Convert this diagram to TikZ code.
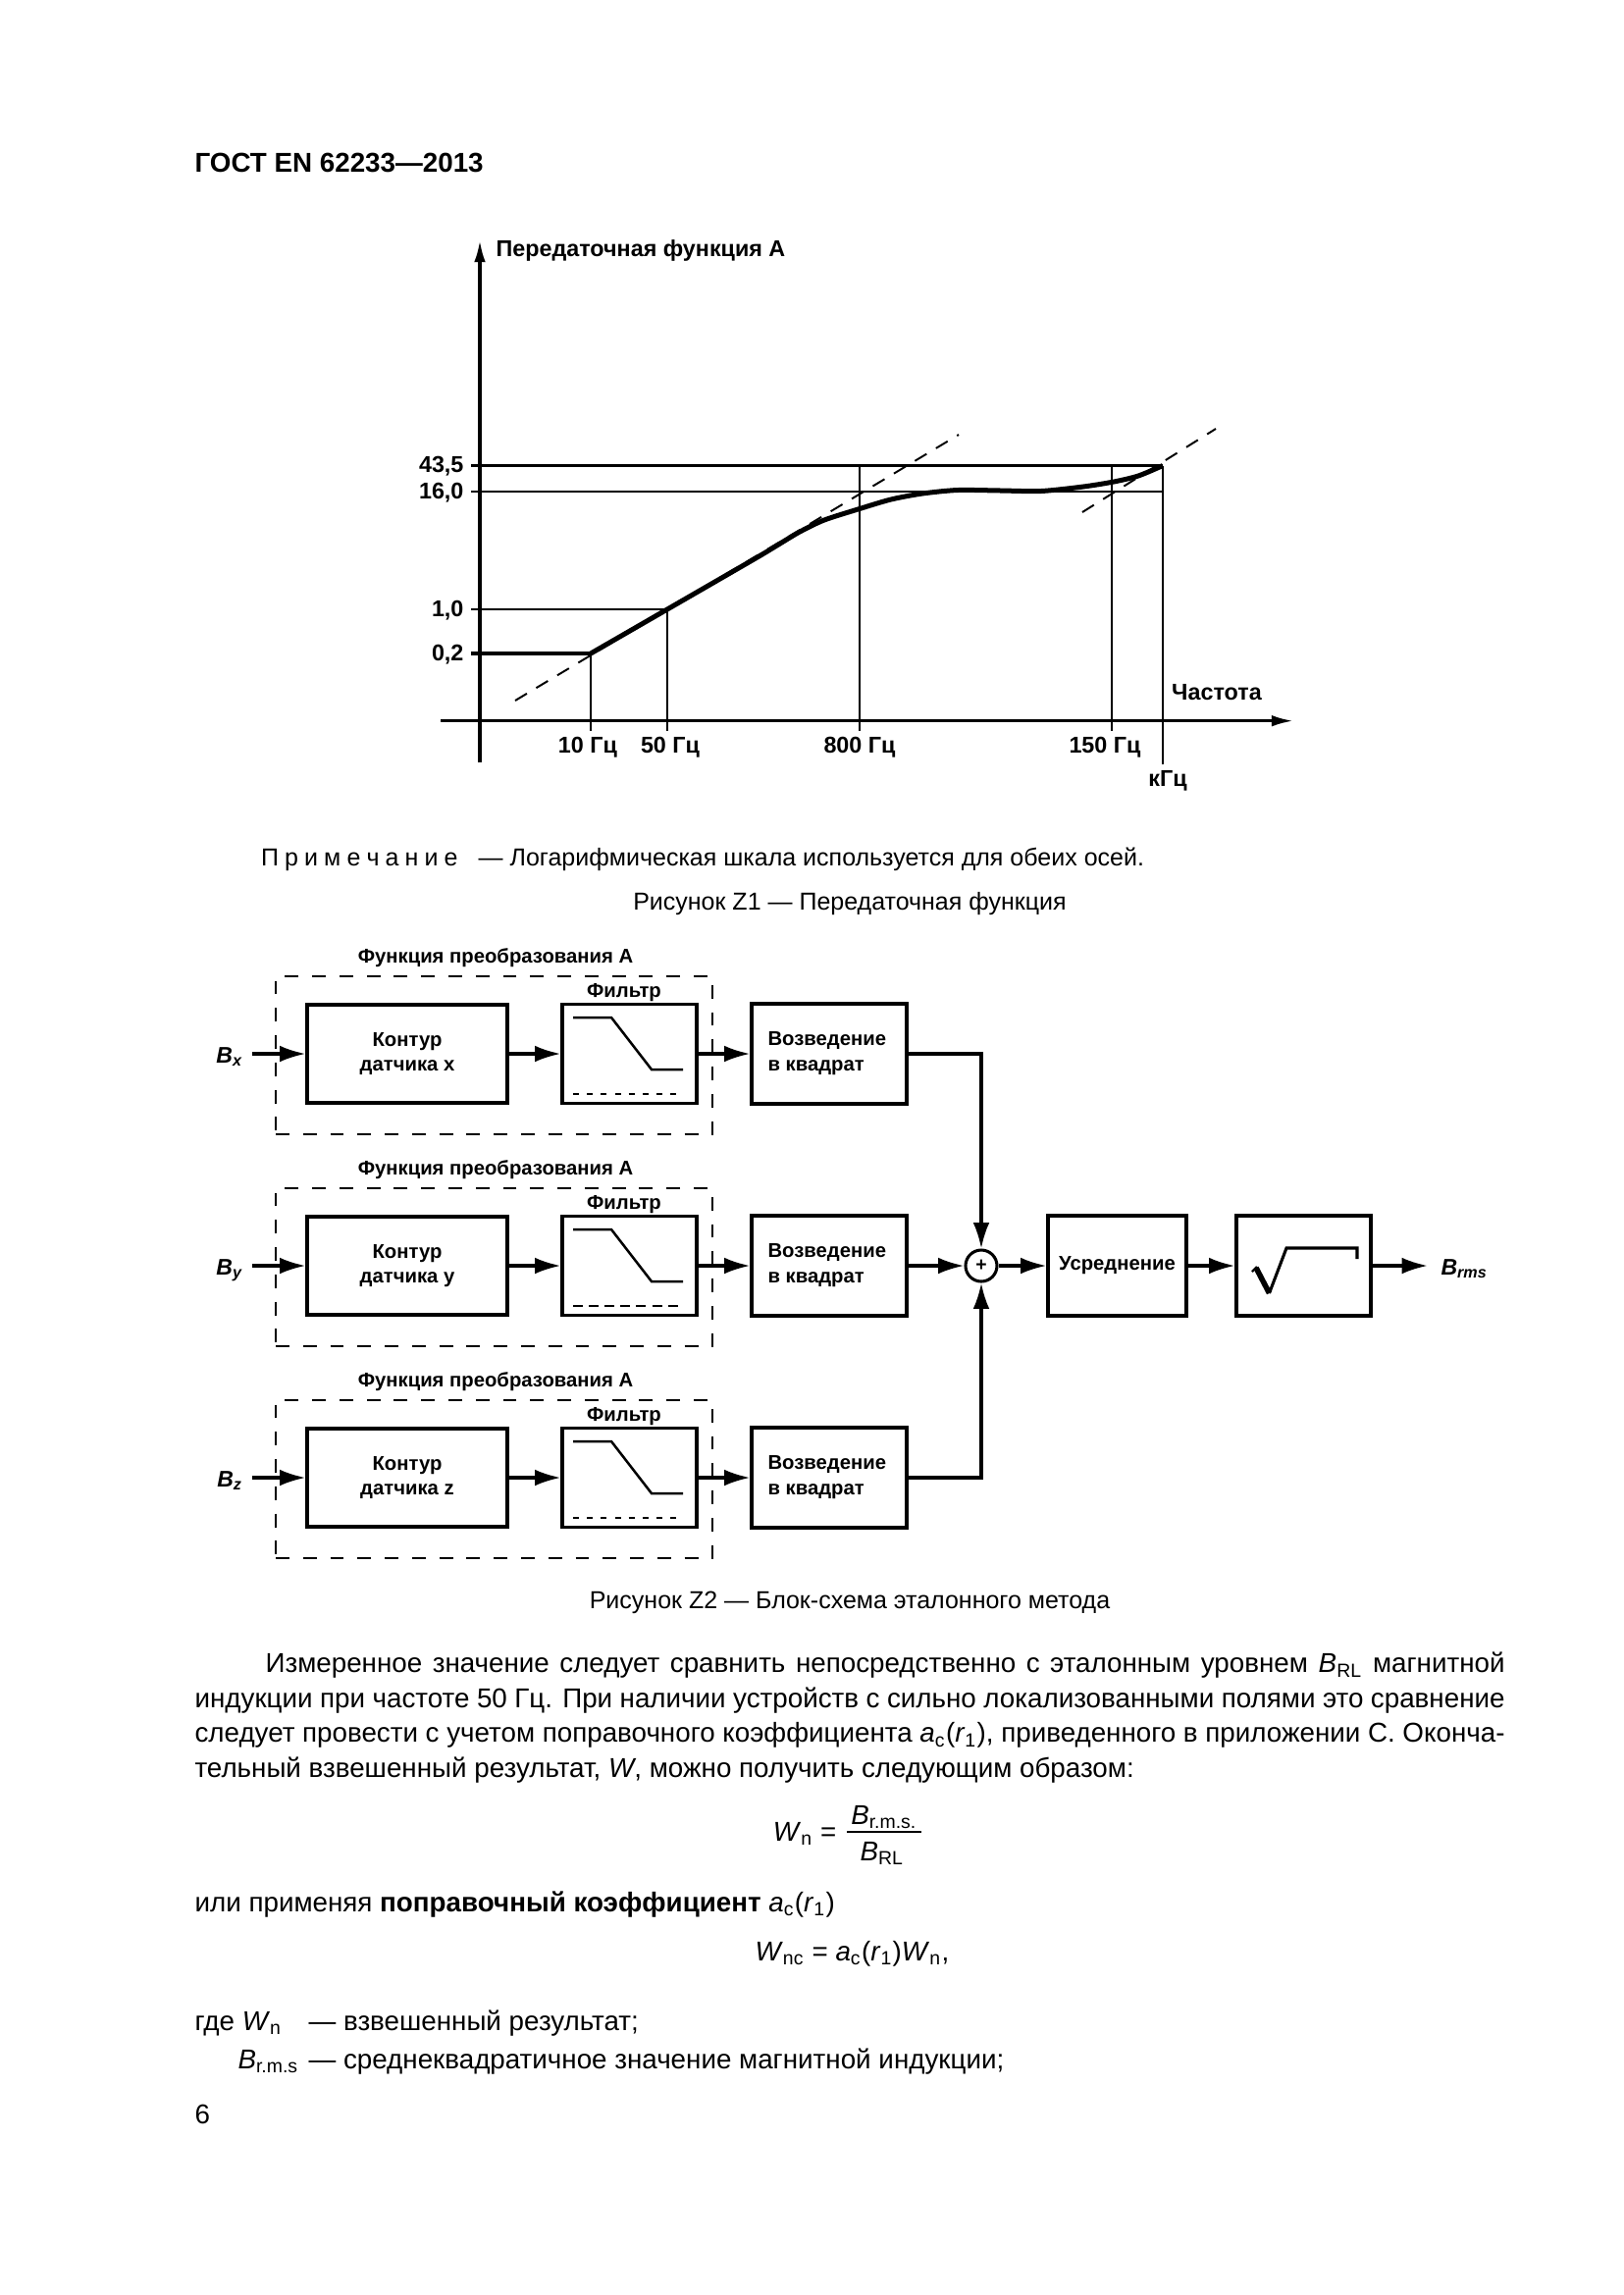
\documentclass[tikz,border=0pt]{standalone}
\usepackage{fontspec}
\setmainfont{Liberation Sans}
\usetikzlibrary{arrows.meta}
\newcommand\spc{\hspace{2.2pt}}
\begin{document}
\begin{tikzpicture}[x=0.36pt,y=-0.36pt,
  gl/.style={font=\bfseries\fontsize{8.4}{10}\selectfont, inner sep=0pt},
  bl/.style={font=\bfseries\fontsize{7.3}{9}\selectfont, inner sep=0pt},
  bvar/.style={font=\bfseries\itshape\fontsize{8.3}{10}\selectfont, inner sep=0pt},
  bodyt/.style={font=\fontsize{10}{12.8}\selectfont, inner sep=0pt},
  capt/.style={font=\fontsize{9}{11}\selectfont, inner sep=0pt},
  box/.style={draw, line width=1.1pt, inner sep=0pt},
  dbox/.style={draw, line width=0.9pt, dash pattern=on 5pt off 5pt, inner sep=0pt},
  arr/.style={line width=1.1pt, -{Latex[length=9.5pt,width=6pt]}},
  axisarr/.style={line width=1.1pt, -{Latex[length=8pt,width=4.2pt]}},
  gdash/.style={line width=0.7pt, dash pattern=on 5pt off 4pt},
]
\fill[white] (0,0) rectangle (1654,2339);
\useasboundingbox (0,0) rectangle (1654,2339);

% header
\node[font=\bfseries\fontsize{10}{12}\selectfont, inner sep=0pt, anchor=mid west] (hdr) at (198,168) {ГОСТ EN 62233—2013};

% ---------------- graph ----------------
\coordinate (ya0) at (489,777);
\coordinate (ya1) at (489,245);
\coordinate (xa0) at (449,734.7);
\coordinate (xa1) at (1318,734.7);
\draw[axisarr] (ya0) -- (ya1);
\draw[axisarr] (xa0) -- (xa1);
\node[gl, anchor=mid west] (ylab) at (505,254) {Передаточная функция А};
\node[gl, anchor=mid] (xlab) at (1240,706) {Частота};

\draw[line width=1.1pt] (480,474.5) -- (1185,474.5);
\draw[line width=0.8pt] (480,501) -- (1185,501);
\draw[line width=0.7pt] (480,621) -- (680,621);
\draw[line width=1.1pt] (480,666) -- (602,666);
\draw[line width=0.6pt] (602,666) -- (602,745);
\draw[line width=0.6pt] (680,621) -- (680,745);
\draw[line width=0.6pt] (876,474.5) -- (876,745);
\draw[line width=0.6pt] (1133,474.5) -- (1133,745);
\draw[line width=0.8pt] (1185,474.5) -- (1185,779);

\node[gl, anchor=mid east] (l435) at (473,474.5) {43,5};
\node[gl, anchor=mid east] (l160) at (473,501) {16,0};
\node[gl, anchor=mid east] (l10) at (473,621) {1,0};
\node[gl, anchor=mid east] (l02) at (473,666) {0,2};
\node[gl, anchor=mid] (f10) at (599,760) {10 Гц};
\node[gl, anchor=mid] (f50) at (683,760) {50 Гц};
\node[gl, anchor=mid] (f800) at (876,760) {800 Гц};
\node[gl, anchor=mid] (f150) at (1126,760) {150 Гц};
\node[gl, anchor=mid] (fk) at (1190,794) {кГц};

\draw[gdash] (525,714) -- (977,443);
\draw[gdash] (1103,522) -- (1239,437);
\draw[line width=1.8pt, line join=round] plot[smooth, tension=0.45] coordinates {(602,666) (680,621) (770,569) (790,557) (815,542) (840,530) (876,518.5) (908,509) (940,503) (976,499.5) (1020,500) (1061,500.5) (1104,496) (1135,491) (1160,485) (1185,474.5)};

\node[capt, anchor=mid west] (note) at (265.5,875.5) {П\spc р\spc и\spc м\spc е\spc ч\spc а\spc н\spc и\spc е\hspace{7.6pt}— Логарифмическая шкала используется для обеих осей.};
\node[capt, anchor=mid] (cap1) at (866,920) {Рисунок Z1 — Передаточная функция};

% ---------------- block diagram ----------------
\foreach \cy/\nm in {1074/x,1290/y,1506/z} {
  \node[bl] (t\nm) at (505,\cy-98) {Функция преобразования А};
  \node[dbox, minimum width={445*0.36pt}, minimum height={161*0.36pt}] (d\nm) at (503.5,\cy+1.5) {};
  \node[bl] (fl\nm) at (636,\cy-62) {Фильтр};
  \node[box, minimum width={204*0.36pt}, minimum height={100*0.36pt}, align=center, font=\bfseries\fontsize{7.3}{9}\selectfont] (k\nm) at (415,\cy) {Контур\\датчика \nm};
  \node[box, minimum width={137*0.36pt}, minimum height={101*0.36pt}] (f\nm) at (641.5,\cy) {};
  \node[box, minimum width={158*0.36pt}, minimum height={102*0.36pt}] (v\nm) at (845,\cy) {};
  \node[bl, anchor=west, align=left, font=\bfseries\fontsize{7.3}{9.4}\selectfont] (vt\nm) at (782,\cy) {Возведение\\в квадрат};
  \draw[line width=0.9pt] (584,\cy-37) -- (623,\cy-37) -- (664,\cy+16) -- (696,\cy+16);
  \node[bvar, anchor=mid east] (b\nm) at (248,\cy+2) {B\textsubscript{\nm}};
  \coordinate (bs\nm) at (257,\cy);
  \draw[arr] (bs\nm) -- (k\nm.west);
  \draw[arr] (k\nm.east) -- (f\nm.west);
  \draw[arr] (f\nm.east) -- (v\nm.west);
}
\draw[line width=0.8pt, dash pattern=on 2.2pt off 2.9pt] (584,1115) -- (696,1115);
\draw[line width=0.8pt, dash pattern=on 3.6pt off 2.2pt] (584,1331) -- (696,1331);
\draw[line width=0.8pt, dash pattern=on 2.2pt off 2.9pt] (584,1547) -- (696,1547);

\node[circle, draw, line width=1.1pt, minimum size={32*0.36pt}, inner sep=0pt, font=\bfseries\fontsize{7}{8}\selectfont] (sum) at (1000,1290) {+};
\node[box, minimum width={141*0.36pt}, minimum height={102*0.36pt}, font=\bfseries\fontsize{7.3}{9}\selectfont] (avg) at (1138.5,1290) {Усреднение};
\node[box, minimum width={137*0.36pt}, minimum height={102*0.36pt}] (sq) at (1328.5,1290) {};
\draw[line width=2pt] (1280,1292) -- (1293.5,1318);
\draw[line width=1.1pt] (1293.5,1318) -- (1311,1272) -- (1383,1272) -- (1383,1283);
\draw[line width=0.8pt] (1276,1296) -- (1281,1291);

\draw[arr] (vx.east) -| (sum.north);
\draw[arr] (vz.east) -| (sum.south);
\draw[arr] (vy.east) -- (sum.west);
\draw[arr] (sum.east) -- (avg.west);
\draw[arr] (avg.east) -- (sq.west);
\coordinate (oute) at (1455,1290);
\draw[arr] (sq.east) -- (oute);
\node[bvar, anchor=mid west] (brms) at (1468,1292) {B\textsubscript{rms}};

\node[capt, anchor=mid] (cap2) at (866,1632) {Рисунок Z2 — Блок-схема эталонного метода};

% ---------------- body text ----------------
\node[bodyt, anchor=mid west] (p1) at (270,1697.5) {\makebox[454.7pt][s]{Измеренное значение следует сравнить непосредственно с эталонным уровнем \textit{B}\textsubscript{RL} магнитной}};
\node[bodyt, anchor=mid west] (p2) at (198,1733) {\makebox[480.6pt][s]{индукции при частоте 50 Гц. При наличии устройств с сильно локализованными полями это сравнение}};
\node[bodyt, anchor=mid west] (p3) at (198,1768.5) {\makebox[480.6pt][s]{следует провести с учетом поправочного коэффициента \textit{a}\textsubscript{c}(\textit{r}\textsubscript{1}), приведенного в приложении С. Оконча-}};
\node[bodyt, anchor=mid west] (p4) at (198,1804) {тельный взвешенный результат, \textit{W}, можно получить следующим образом:};

\node[bodyt, anchor=mid east] (wn) at (853,1869) {\textit{W}\textsubscript{n} =};
\draw[line width=0.7pt] (863,1867) -- (939,1867);
\node[bodyt, anchor=mid] (num) at (901,1852) {\textit{B}\textsubscript{r.m.s.}};
\node[bodyt, anchor=mid] (den) at (899,1889) {\textit{B}\textsubscript{RL}};

\node[bodyt, anchor=mid west] (p5) at (198,1941) {или применяя \textbf{поправочный коэффициент} \textit{a}\textsubscript{c}(\textit{r}\textsubscript{1})};
\node[bodyt, anchor=mid west] (p6) at (769,1991) {\textit{W}\textsubscript{nc} = \textit{a}\textsubscript{c}(\textit{r}\textsubscript{1})\textit{W}\textsubscript{n},};
\node[bodyt, anchor=mid west] (g1) at (198,2062) {где \textit{W}\textsubscript{n}};
\node[bodyt, anchor=mid west] (g1d) at (314,2062) {— взвешенный результат;};
\node[bodyt, anchor=mid west] (g2) at (242,2101) {\textit{B}\textsubscript{r.m.s}};
\node[bodyt, anchor=mid west] (g2d) at (314,2101) {— среднеквадратичное значение магнитной индукции;};
\node[bodyt, anchor=mid west] (pg) at (198,2157) {6};
\end{tikzpicture}
\end{document}
